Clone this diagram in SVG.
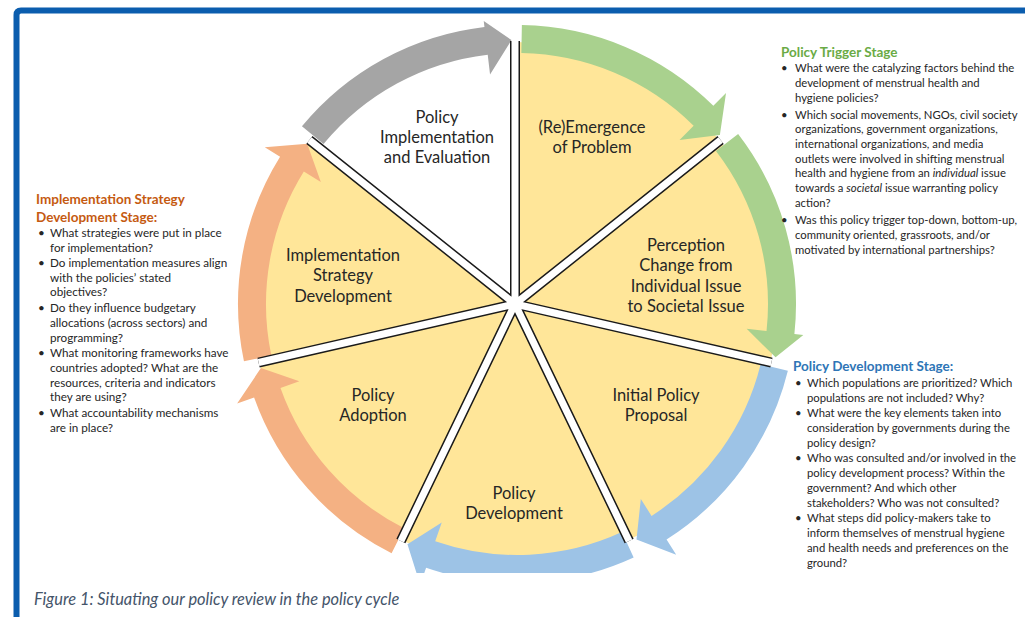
<svg xmlns="http://www.w3.org/2000/svg" width="1025" height="617" viewBox="0 0 1025 617">
<style>
text{font-family:Lato,"Liberation Sans",sans-serif;fill:#262626}
.lbl{font-size:16.5px;text-anchor:middle}
.b{font-size:11.3px}
.bl{font-size:11.7px}
.h{font-size:13.5px;font-weight:bold}
.wedge{fill:#FFE699;stroke:none}
.dk{stroke:#1a1a1a;stroke-width:10;fill:none}
.wt{stroke:#ffffff;stroke-width:7;fill:none}
.cap{font-size:16.4px;font-style:italic;fill:#44546A}
</style>
<defs>
<clipPath id="clip"><rect x="0" y="0" width="1025" height="573"/></clipPath>
</defs>
<rect width="1025" height="617" fill="#ffffff"/>
<path d="M16.5 617 V15 Q16.5 10.5 21 10.5 H1025" fill="none" stroke="#0B5DAE" stroke-width="6"/>

<g id="wedges">
<path class="wedge" d="M515 304 L515 42 A262 262 0 0 1 719.84 140.65 Z"/>
<path class="wedge" d="M515 304 L719.84 140.65 A262 262 0 0 1 770.43 362.30 Z"/>
<path class="wedge" d="M515 304 L770.43 362.30 A262 262 0 0 1 628.68 540.05 Z"/>
<path class="wedge" d="M515 304 L628.68 540.05 A262 262 0 0 1 401.32 540.05 Z"/>
<path class="wedge" d="M515 304 L401.32 540.05 A262 262 0 0 1 259.57 362.30 Z"/>
<path class="wedge" d="M515 304 L259.57 362.30 A262 262 0 0 1 310.16 140.65 Z"/>
</g>

<g id="connectors" clip-path="url(#clip)">
<path fill="#A9D18E" d="M521.87 25.04 A279 279 0 0 1 713.35 105.79 L726.02 93.0 L719.87 135.06 L679.57 139.89 L693.65 125.68 A251 251 0 0 0 521.38 53.04 Z"/>
<path fill="#A9D18E" d="M738.14 133.88 A279 279 0 0 1 794.39 333.93 L803.34 334.89 L775.56 357.34 L746.67 328.78 L766.55 330.92 A251 251 0 0 0 715.94 150.95 Z"/>
<path fill="#9DC3E6" d="M787.88 370.82 A279 279 0 0 1 666.56 539.53 L676.20 554.72 L636.50 539.41 L640.83 499.01 L651.55 515.89 A251 251 0 0 0 760.70 364.11 Z"/>
<path fill="#9DC3E6" d="M633.65 557.45 A279 279 0 0 1 426.10 567.78 L420.23 584.80 L407.46 544.20 L441.74 522.40 L435.22 541.31 A251 251 0 0 0 621.94 532.01 Z"/>
<path fill="#F4B183" d="M391.58 553.22 A279 279 0 0 1 254.10 397.40 L237.13 403.42 L260.90 368.12 L299.33 381.33 L280.48 388.02 A251 251 0 0 0 404.17 528.21 Z"/>
<path fill="#F4B183" d="M243.95 361.33 A279 279 0 0 1 280.06 156.68 L264.78 147.18 L307.19 143.75 L320.83 182.03 L303.84 171.47 A251 251 0 0 0 271.35 355.57 Z"/>
<path fill="#A5A5A5" d="M301.94 126.27 A279 279 0 0 1 484.45 26.91 L483.75 20.95 L511.47 40.06 L490.05 74.58 L487.72 54.71 A251 251 0 0 0 323.52 144.10 Z"/>
</g>

<g id="dividers">
<path class="dk" d="M515 304 L515 41 M515 304 L720.62 140.02 M515 304 L771.41 362.52 M515 304 L629.11 540.96 M515 304 L400.89 540.96 M515 304 L258.59 362.52 M515 304 L309.38 140.02"/>
<path class="wt" d="M515 304 L515 41 M515 304 L720.62 140.02 M515 304 L771.41 362.52 M515 304 L629.11 540.96 M515 304 L400.89 540.96 M515 304 L258.59 362.52 M515 304 L309.38 140.02"/>
</g>

<g id="node-reemergence">
<text class="lbl" x="592" y="133">(Re)Emergence</text>
<text class="lbl" x="592" y="153">of Problem</text>
</g>
<g id="node-perception">
<text class="lbl" x="686" y="251">Perception</text>
<text class="lbl" x="686" y="271">Change from</text>
<text class="lbl" x="686" y="291.5">Individual Issue</text>
<text class="lbl" x="686" y="311.5">to Societal Issue</text>
</g>
<g id="node-initial-proposal">
<text class="lbl" x="656" y="401">Initial Policy</text>
<text class="lbl" x="656" y="421">Proposal</text>
</g>
<g id="node-policy-development">
<text class="lbl" x="514" y="499">Policy</text>
<text class="lbl" x="514" y="519">Development</text>
</g>
<g id="node-policy-adoption">
<text class="lbl" x="373" y="401">Policy</text>
<text class="lbl" x="373" y="421">Adoption</text>
</g>
<g id="node-implementation-strategy">
<text class="lbl" x="343" y="261">Implementation</text>
<text class="lbl" x="343" y="281">Strategy</text>
<text class="lbl" x="343" y="302">Development</text>
</g>
<g id="node-implementation-evaluation">
<text class="lbl" x="437" y="123">Policy</text>
<text class="lbl" x="437" y="143">Implementation</text>
<text class="lbl" x="437" y="163">and Evaluation</text>
</g>

<g id="trigger-notes">
<text class="h" x="781" y="57" style="fill:#6AAB45">Policy Trigger Stage</text>
<text class="b" x="781" y="72.3">•</text>
<text class="b" x="795" y="72.3">What were the catalyzing factors behind the</text>
<text class="b" x="795" y="87.3">development of menstrual health and</text>
<text class="b" x="795" y="102.3">hygiene policies?</text>
<text class="b" x="781" y="119">•</text>
<text class="b" x="795" y="119">Which social movements, NGOs, civil society</text>
<text class="b" x="795" y="133.3">organizations, government organizations,</text>
<text class="b" x="795" y="148">international organizations, and media</text>
<text class="b" x="795" y="162.5">outlets were involved in shifting menstrual</text>
<text class="b" x="795" y="177.3">health and hygiene from an <tspan font-style="italic">individual</tspan> issue</text>
<text class="b" x="795" y="192.3">towards a <tspan font-style="italic">societal</tspan> issue warranting policy</text>
<text class="b" x="795" y="207.3">action?</text>
<text class="b" x="781" y="224">•</text>
<text class="b" x="795" y="224">Was this policy trigger top-down, bottom-up,</text>
<text class="b" x="795" y="239">community oriented, grassroots, and/or</text>
<text class="b" x="795" y="254">motivated by international partnerships?</text>
</g>

<g id="development-notes">
<text class="h" x="793" y="371" style="fill:#2E75B6">Policy Development Stage:</text>
<text class="b" x="795" y="387.3">•</text>
<text class="b" x="807" y="387.3">Which populations are prioritized? Which</text>
<text class="b" x="807" y="401.7">populations are not included? Why?</text>
<text class="b" x="795" y="416.7">•</text>
<text class="b" x="807" y="416.7">What were the key elements taken into</text>
<text class="b" x="807" y="432.3">consideration by governments during the</text>
<text class="b" x="807" y="447.3">policy design?</text>
<text class="b" x="795" y="462.3">•</text>
<text class="b" x="807" y="462.3">Who was consulted and/or involved in the</text>
<text class="b" x="807" y="477.3">policy development process? Within the</text>
<text class="b" x="807" y="492.3">government? And which other</text>
<text class="b" x="807" y="507.3">stakeholders? Who was not consulted?</text>
<text class="b" x="795" y="522.3">•</text>
<text class="b" x="807" y="522.3">What steps did policy-makers take to</text>
<text class="b" x="807" y="537.3">inform themselves of menstrual hygiene</text>
<text class="b" x="807" y="552.3">and health needs and preferences on the</text>
<text class="b" x="807" y="567.3">ground?</text>
</g>

<g id="strategy-notes">
<text class="h" x="36" y="203.5" style="fill:#C55A11">Implementation Strategy</text>
<text class="h" x="36" y="221.5" style="fill:#C55A11">Development Stage:</text>
<text class="bl" x="38" y="236.7">•</text>
<text class="bl" x="50" y="236.7">What strategies were put in place</text>
<text class="bl" x="50" y="251.7">for implementation?</text>
<text class="bl" x="38" y="267.3">•</text>
<text class="bl" x="50" y="267.3">Do implementation measures align</text>
<text class="bl" x="50" y="281.7">with the policies’ stated</text>
<text class="bl" x="50" y="296.3">objectives?</text>
<text class="bl" x="38" y="312.3">•</text>
<text class="bl" x="50" y="312.3">Do they influence budgetary</text>
<text class="bl" x="50" y="326.7">allocations (across sectors) and</text>
<text class="bl" x="50" y="341.7">programming?</text>
<text class="bl" x="38" y="357.3">•</text>
<text class="bl" x="50" y="357.3">What monitoring frameworks have</text>
<text class="bl" x="50" y="371.7">countries adopted? What are the</text>
<text class="bl" x="50" y="386.7">resources, criteria and indicators</text>
<text class="bl" x="50" y="401.3">they are using?</text>
<text class="bl" x="38" y="417.3">•</text>
<text class="bl" x="50" y="417.3">What accountability mechanisms</text>
<text class="bl" x="50" y="431.7">are in place?</text>
</g>

<text class="cap" x="34" y="605">Figure 1: Situating our policy review in the policy cycle</text>
</svg>
